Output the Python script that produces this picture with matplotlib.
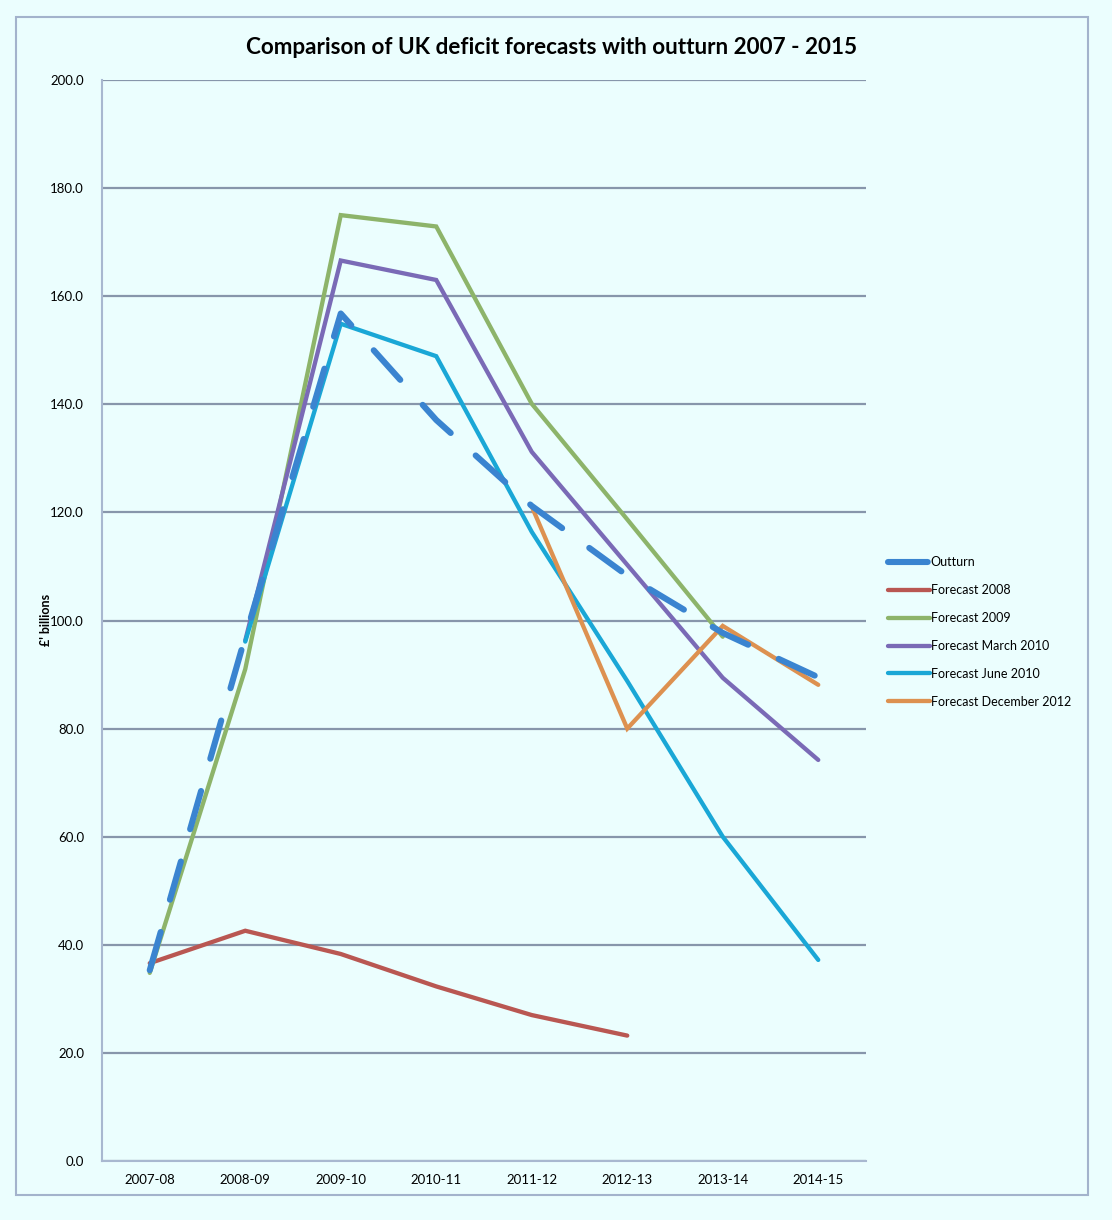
import matplotlib
matplotlib.use("Agg")
import matplotlib.pyplot as plt
from matplotlib.patches import Rectangle

plt.rcParams['font.family'] = ['Lato', 'DejaVu Sans']

years = ["2007-08", "2008-09", "2009-10", "2010-11", "2011-12", "2012-13", "2013-14", "2014-15"]

outturn = [35.3, 97.0, 156.8, 137.1, 121.2, 108.3, 97.7, 89.5]
fc2008 = [36.6, 42.6, 38.3, 32.3, 27.0, 23.2, None, None]
fc2009 = [34.8, 91.0, 175.0, 172.9, 140.1, 118.7, 97.0, None]
fc_mar2010 = [None, 96.3, 166.6, 163.0, 131.2, 110.3, 89.4, 74.2]
fc_jun2010 = [None, 96.1, 154.9, 148.9, 116.4, 88.8, 60.0, 37.2]
fc_dec2012 = [None, None, None, None, 121.1, 80.0, 99.0, 88.1]

series = [
    ("Outturn", outturn, "#3A84D0"),
    ("Forecast 2008", fc2008, "#B95752"),
    ("Forecast 2009", fc2009, "#8DB46A"),
    ("Forecast March 2010", fc_mar2010, "#7A6AB6"),
    ("Forecast June 2010", fc_jun2010, "#1AA7D6"),
    ("Forecast December 2012", fc_dec2012, "#DD9150"),
]

bg = "#EBFEFE"
fig = plt.figure(figsize=(11.12, 12.2), dpi=100, facecolor=bg)
ax = fig.add_axes([102/1112, 1 - 1161/1220, (866-102)/1112, (1161-80)/1220])
ax.set_facecolor(bg)

# outer frame
fig.patches.append(Rectangle((16/1112, 1 - 1195/1220), (1088-16)/1112, (1195-17)/1220,
                             transform=fig.transFigure, fill=False,
                             edgecolor="#A3B3CC", linewidth=1.5))

x = list(range(len(years)))
for name, vals, col in series:
    xs = [i for i, v in zip(x, vals) if v is not None]
    ys = [v for v in vals if v is not None]
    if name == "Outturn":
        ax.plot(xs, ys, color=col, linewidth=4.4, dashes=(6.5, 5.5),
                dash_capstyle="round", solid_capstyle="round", label=name, zorder=3)
    else:
        ax.plot(xs, ys, color=col, linewidth=3.1, solid_capstyle="round",
                solid_joinstyle="miter", label=name, zorder=2)

ax.set_xlim(-0.5, 7.5)
ax.set_ylim(0, 200)
ax.set_yticks(range(0, 201, 20))
ax.set_yticklabels(["%.1f" % v for v in range(0, 201, 20)])
ax.set_xticks(x)
ax.set_xticklabels(years)
ax.tick_params(length=0, labelsize=9.5, colors="black")
ax.tick_params(axis="x", pad=9)
ax.tick_params(axis="y", pad=13)
ax.yaxis.grid(True, color="#8796AB", linewidth=1.6)
ax.set_axisbelow(True)
for s in ["top", "right"]:
    ax.spines[s].set_visible(False)
ax.spines["left"].set_color("#A8B8D0")
ax.spines["bottom"].set_color("#A8B8D0")
ax.spines["left"].set_linewidth(1.5)
ax.spines["bottom"].set_linewidth(1.5)

fig.text(46/1112, 1 - 620/1220, "£' billions", rotation=90, fontsize=9,
         fontweight="bold", ha="center", va="center")
fig.text(552/1112, 1 - 47/1220, "Comparison of UK deficit forecasts with outturn 2007 - 2015",
         fontsize=16.2, fontweight="bold", ha="center", va="center")

ax.legend(loc="upper left", bbox_to_anchor=(877/1112, 1 - 545/1220),
          bbox_transform=fig.transFigure, frameon=False, fontsize=9,
          handlelength=3.3, handletextpad=0.1, labelspacing=1.27)

fig.savefig("out.png", dpi=100, facecolor=bg)
